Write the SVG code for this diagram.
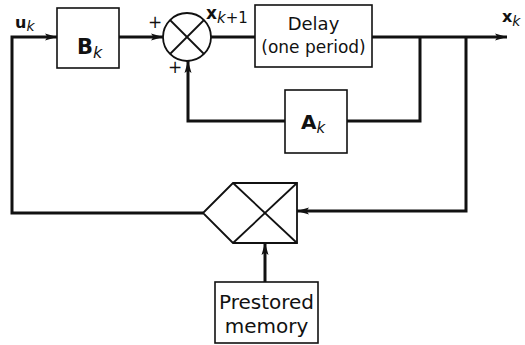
<svg xmlns="http://www.w3.org/2000/svg" width="525" height="345" viewBox="0 0 525 345">
<style>
.box{fill:#fff;stroke:#111;stroke-width:1.6}
.sym{fill:none;stroke:#111;stroke-width:1.8}
.wire{fill:none;stroke:#111;stroke-width:3;stroke-linejoin:miter}
.lbl{font-family:"DejaVu Sans","Liberation Sans",sans-serif;fill:#111}
.v{font-weight:bold}
.s{font-style:italic;font-weight:normal}
</style>
<defs>
<marker id="ah" viewBox="0 0 12 8" refX="12" refY="4" markerWidth="12" markerHeight="8" markerUnits="userSpaceOnUse" orient="auto">
<path d="M0,0.5 L12,4 L0,7.5 L2.5,4 Z" fill="#111"/>
</marker>
</defs>
<rect width="525" height="345" fill="#fff"/>
<g id="connectors">
<polyline class="wire" points="203,213 12,213 12,37 57,37" marker-end="url(#ah)"/>
<line class="wire" x1="119" y1="37" x2="163" y2="37" marker-end="url(#ah)"/>
<line class="wire" x1="211" y1="37" x2="255" y2="37"/>
<line class="wire" x1="372" y1="37" x2="507" y2="37" marker-end="url(#ah)"/>
<polyline class="wire" points="420,37 420,121 347,121"/>
<polyline class="wire" points="285,121 188,121 188,61" marker-end="url(#ah)"/>
<polyline class="wire" points="466,37 466,211 297,211" marker-end="url(#ah)"/>
<line class="wire" x1="265" y1="282" x2="265" y2="243" marker-end="url(#ah)"/>
</g>
<g id="input-label">
<text class="lbl v" x="15" y="28" font-size="16">u<tspan class="s" font-size="14" dy="3">k</tspan></text>
</g>
<g id="B">
<rect class="box" x="57" y="8" width="62" height="60"/>
<text class="lbl v" x="77" y="54" font-size="21">B<tspan class="s" font-size="16" dy="4">k</tspan></text>
</g>
<g id="summer">
<circle class="sym" cx="187" cy="37" r="24"/>
<line class="sym" x1="170" y1="20" x2="204" y2="54"/>
<line class="sym" x1="204" y1="20" x2="170" y2="54"/>
<text class="lbl" x="155" y="28" font-size="17" text-anchor="middle">+</text>
<text class="lbl" x="175" y="73" font-size="17" text-anchor="middle">+</text>
</g>
<g id="xk1-label">
<text class="lbl v" x="206" y="19" font-size="17">x<tspan class="s" font-size="15" dy="4">k</tspan><tspan font-weight="normal" font-size="15">+1</tspan></text>
</g>
<g id="delay">
<rect class="box" x="255" y="5" width="117" height="62"/>
<text class="lbl" x="313.5" y="30" font-size="18" text-anchor="middle">Delay</text>
<text class="lbl" x="313.5" y="53" font-size="17" text-anchor="middle">(one period)</text>
</g>
<g id="xk-label">
<text class="lbl v" x="502" y="22" font-size="16">x<tspan class="s" font-size="14" dy="4">k</tspan></text>
</g>
<g id="A">
<rect class="box" x="285" y="90" width="62" height="63"/>
<text class="lbl v" x="301" y="129" font-size="20">A<tspan class="s" font-size="15" dy="4">k</tspan></text>
</g>
<g id="multiplier">
<polygon class="sym" points="203,213 233,183 297,183 297,243 233,243"/>
<line class="sym" x1="233" y1="183" x2="297" y2="243"/>
<line class="sym" x1="297" y1="183" x2="233" y2="243"/>
</g>
<g id="memory">
<rect class="box" x="215" y="282" width="103" height="61"/>
<text class="lbl" x="266.5" y="309" font-size="20" text-anchor="middle">Prestored</text>
<text class="lbl" x="266.5" y="333" font-size="20" text-anchor="middle">memory</text>
</g>
</svg>
